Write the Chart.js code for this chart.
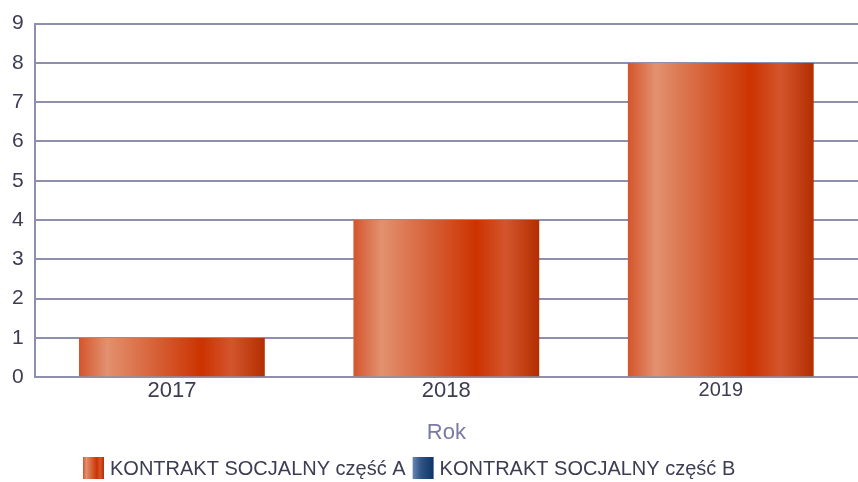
<!DOCTYPE html>
<html>
<head>
<meta charset="utf-8">
<script src="https://cdn.jsdelivr.net/npm/chart.js"></script>
<style>
  html, body { margin: 0; padding: 0; background: #fff; }
  #wrap { width: 858px; height: 482px; }
</style>
</head>
<body>
<div id="wrap"><canvas id="chart" width="858" height="482"></canvas></div>
<script>
const years = ['2017', '2018', '2019'];
const partA = [1, 4, 8];
const partB = [0, 0, 0];
const yTicks = [0, 1, 2, 3, 4, 5, 6, 7, 8, 9];
const seriesNames = ['KONTRAKT SOCJALNY część A', 'KONTRAKT SOCJALNY część B'];

const GRID = '#8e8eae';
const TEXT = '#3c3c52';
const FONT = 'Liberation Sans, Arial, sans-serif';

// horizontal "cylinder" shading across one bar
function orangeGrad(ctx, x0, x1) {
    const g = ctx.createLinearGradient(x0, 0, x1, 0);
    g.addColorStop(0, '#d4552c');
    g.addColorStop(0.15, '#e2916f');
    g.addColorStop(0.4, '#d7633a');
    g.addColorStop(0.66, '#cc3300');
    g.addColorStop(0.82, '#d4552d');
    g.addColorStop(1, '#b32e00');
    return g;
}
function blueGrad(ctx, x0, x1) {
    const g = ctx.createLinearGradient(x0, 0, x1, 0);
    g.addColorStop(0, '#6a86b0');
    g.addColorStop(0.4, '#2e5486');
    g.addColorStop(1, '#0f3466');
    return g;
}

const shading = {
    id: 'shading',
    beforeDatasetsDraw(chart) {
        const c = chart.ctx;
        chart.getDatasetMeta(0).data.forEach(el => {
            el.options.backgroundColor = orangeGrad(c, el.x - el.width / 2, el.x + el.width / 2);
        });
    },
    // legend row under the axis title
    afterDraw(chart) {
        const c = chart.ctx;
        const grads = [orangeGrad, blueGrad];
        c.save();
        c.font = '20px ' + FONT;
        c.textBaseline = 'middle';
        let x = 83;
        const top = 457, h = 22, bw = 21;
        chart.data.datasets.forEach((d, i) => {
            c.fillStyle = grads[i](c, x, x + bw);
            c.fillRect(x, top, bw, h);
            c.fillStyle = TEXT;
            c.fillText(d.label, x + bw + 6, top + h / 2 + 1);
            x += bw + 6 + c.measureText(d.label).width + 7;
        });
        c.restore();
    }
};

new Chart(document.getElementById('chart'), {
    type: 'bar',
    data: {
        labels: years,
        datasets: [
            { label: seriesNames[0], data: partA, backgroundColor: () => '#cc3300', grouped: false },
            { label: seriesNames[1], data: partB, backgroundColor: () => '#1a3a6a', grouped: false }
        ]
    },
    options: {
        responsive: false,
        animation: false,
        layout: { padding: { top: 19, right: 0, left: 1, bottom: 36 } },
        datasets: { bar: { barPercentage: 0.677, categoryPercentage: 1 } },
        scales: {
            x: {
                grid: { display: false, drawTicks: false },
                border: { display: false },
                ticks: {
                    color: TEXT,
                    padding: 1,
                    font: ctx => ({ family: FONT, size: ctx.index === 2 ? 20 : 22 })
                },
                title: {
                    display: true, text: 'Rok', color: '#7a7aa2',
                    font: { family: FONT, size: 22 },
                    padding: { top: 14, bottom: 0 }
                }
            },
            y: {
                min: 0, max: 9,
                afterBuildTicks: axis => { axis.ticks = yTicks.map(v => ({ value: v })); },
                grid: { color: GRID, lineWidth: 2, drawTicks: false },
                border: { display: true, color: GRID, width: 2 },
                ticks: {
                    color: TEXT, padding: 11,
                    font: { family: FONT, size: 21 }
                }
            }
        },
        plugins: {
            tooltip: { enabled: false },
            legend: { display: false }
        }
    },
    plugins: [shading]
});
</script>
</body>
</html>
